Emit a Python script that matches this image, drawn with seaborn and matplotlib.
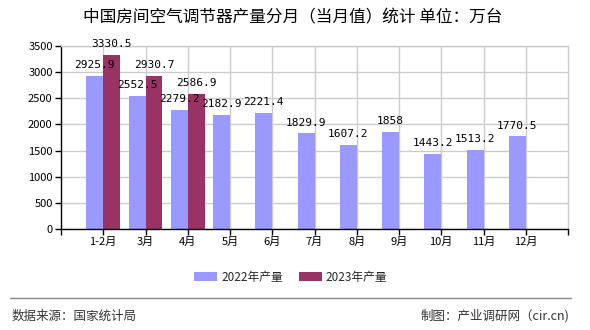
import numpy as np
import pandas as pd
import matplotlib
matplotlib.use("Agg")
import matplotlib.pyplot as plt
from matplotlib.lines import Line2D
import seaborn as sns

months = ["1-2月", "3月", "4月", "5月", "6月", "7月", "8月", "9月", "10月", "11月", "12月"]
prod_2022 = [2925.9, 2552.5, 2279.2, 2182.9, 2221.4, 1829.9, 1607.2, 1858, 1443.2, 1513.2, 1770.5]
prod_2023 = [3330.5, 2930.7, 2586.9, None, None, None, None, None, None, None, None]
series_names = ["2022年产量", "2023年产量"]
colors = ["#9999FF", "#993366"]
yticks = [0, 500, 1000, 1500, 2000, 2500, 3000, 3500]

sns.set_theme(style="white")
plt.rcParams["font.family"] = ["Noto Sans CJK SC", "DejaVu Sans"]
plt.rcParams["axes.unicode_minus"] = False

df = pd.DataFrame({
    "month": months * 2,
    "series": [series_names[0]] * len(months) + [series_names[1]] * len(months),
    "value": [float(v) for v in prod_2022] + [np.nan if v is None else float(v) for v in prod_2023],
})

fig = plt.figure(figsize=(5.9, 3.3), dpi=100)
ax = fig.add_axes([61 / 590, 1 - 229 / 330, (568 - 61) / 590, (229 - 46) / 330])

sns.barplot(data=df, x="month", y="value", hue="series", order=months,
            hue_order=series_names, palette=colors, saturation=1, width=0.8,
            ax=ax, legend=True, linewidth=0)

ax.set_xlim(-1, len(months))
ax.set_ylim(0, 3500)
ax.set_yticks(yticks)
ax.set_yticklabels([str(t) for t in yticks], fontsize=8)
ax.set_xticks(range(len(months)))
ax.set_xticklabels(months, fontsize=8)
ax.set_xticks([-1, len(months)], minor=True)
ax.set_xlabel("")
ax.set_ylabel("")

ax.grid(True, which="major", axis="both", color="#cccccc", linewidth=1)
ax.set_axisbelow(True)
ax.tick_params(axis="both", which="both", direction="out", length=4, width=1,
               color="black", pad=2, labelcolor="black")
ax.tick_params(axis="x", which="both", bottom=True)
ax.tick_params(axis="y", left=True)
for side in ["left", "bottom"]:
    ax.spines[side].set_color("black")
    ax.spines[side].set_linewidth(1)
for side in ["top", "right"]:
    ax.spines[side].set_color("#cccccc")
    ax.spines[side].set_linewidth(1)

for cont in ax.containers:
    labels = []
    for p in cont:
        h = p.get_height()
        labels.append("" if (h is None or np.isnan(h) or h == 0) else f"{h:g}")
    ax.bar_label(cont, labels=labels, padding=4, fontsize=8,
                 family="DejaVu Sans Mono", color="black")

leg = ax.get_legend()
handles, labs = ax.get_legend_handles_labels()
if leg is not None:
    leg.remove()
fig.legend(handles, labs, loc="center", bbox_to_anchor=(291 / 590, 1 - 277 / 330),
           ncol=2, frameon=False, fontsize=8.5, handlelength=1.9, handleheight=0.85,
           handletextpad=0.35, columnspacing=1.4)

fig.text(293 / 590, 1 - 18 / 330, "中国房间空气调节器产量分月（当月值）统计 单位：万台",
         ha="center", va="center", fontsize=12, color="black")

fig.add_artist(Line2D([10 / 590, 571 / 590], [1 - 298 / 330, 1 - 298 / 330],
                      color="#888888", linewidth=1))
fig.text(12 / 590, 1 - 316 / 330, "数据来源：国家统计局", ha="left", va="center",
         fontsize=9, color="#333333")
fig.text(569 / 590, 1 - 316 / 330, "制图：产业调研网（cir.cn)", ha="right", va="center",
         fontsize=9, color="#333333")

fig.savefig("out.png", dpi=100)
